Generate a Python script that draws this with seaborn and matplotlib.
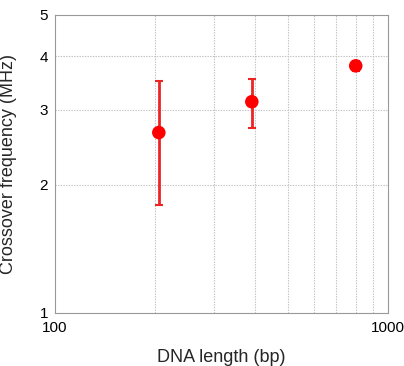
import matplotlib
matplotlib.use("Agg")
import matplotlib.pyplot as plt
import matplotlib.ticker as mticker
import seaborn as sns
import pandas as pd
import numpy as np

# Data
lengths = [205, 390, 800]          # DNA length (bp)
freq = [2.65, 3.13, 3.80]          # crossover frequency (MHz)
freq_low = [1.79, 2.72, 3.69]
freq_high = [3.50, 3.54, 3.91]

x_ticks = [100, 1000]
x_tick_labels = ["100", "1000"]
y_ticks = [1, 2, 3, 4, 5]
y_tick_labels = ["1", "2", "3", "4", "5"]

sns.set_style("white")
plt.rcParams['font.family'] = ['Liberation Sans', 'DejaVu Sans']

df = pd.DataFrame({"length": lengths, "freq": freq})

fig = plt.figure(figsize=(4.04, 3.66), dpi=100)
ax = fig.add_axes([55/404, 1 - 313/366, (388 - 55)/404, (313 - 15)/366])

ax.set_xscale("log")
ax.set_yscale("log")
ax.set_xlim(100, 1000)
ax.set_ylim(1, 5)

# grid lines: x at 200..900, y at 2,3,4
for gx in range(200, 1000, 100):
    ax.axvline(gx, color="#c0c0c0", lw=0.8, ls=(0, (1.2, 1.2)), zorder=0)
for gy in [2, 3, 4]:
    ax.axhline(gy, color="#c0c0c0", lw=0.8, ls=(0, (1.2, 1.2)), zorder=0)

yerr = np.array([np.array(freq) - np.array(freq_low), np.array(freq_high) - np.array(freq)])
ax.errorbar(lengths, freq, yerr=yerr, fmt="none", ecolor="#ec2424",
            elinewidth=2, capsize=3, capthick=1.5, zorder=2)
sns.scatterplot(data=df, x="length", y="freq", ax=ax, color="#ff0000",
                s=95, edgecolor="none", zorder=3, legend=False)

ax.xaxis.set_major_locator(mticker.FixedLocator(x_ticks))
ax.xaxis.set_major_formatter(mticker.FixedFormatter(x_tick_labels))
ax.xaxis.set_minor_locator(mticker.NullLocator())
ax.yaxis.set_major_locator(mticker.FixedLocator(y_ticks))
ax.yaxis.set_major_formatter(mticker.FixedFormatter(y_tick_labels))
ax.yaxis.set_minor_locator(mticker.NullLocator())
ax.tick_params(axis="both", length=0, labelsize=11, colors="black")
ax.tick_params(axis="x", pad=6)
ax.tick_params(axis="y", pad=5)

for sp in ax.spines.values():
    sp.set_color("#999999")
    sp.set_linewidth(0.8)

ax.set_xlabel("DNA length (bp)", fontsize=13)
ax.set_ylabel("Crossover frequency (MHz)", fontsize=13)
ax.xaxis.set_label_coords(0.5, -0.12)
ax.yaxis.set_label_coords(-0.114, 0.5)

fig.savefig("out.png", dpi=100)
